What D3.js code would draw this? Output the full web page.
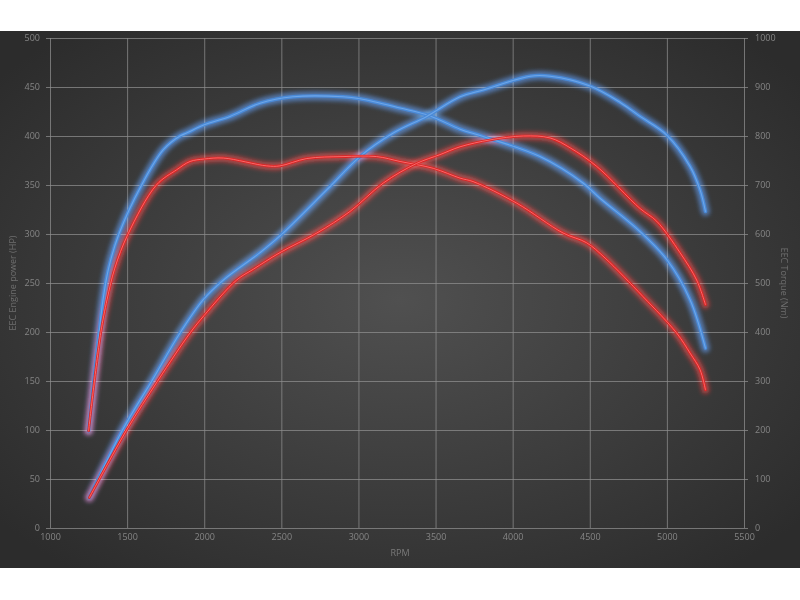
<!DOCTYPE html>
<html><head><meta charset="utf-8">
<script src="https://cdn.jsdelivr.net/npm/d3@7"></script>
<style>
html,body{margin:0;padding:0;background:#fff;}
svg{display:block;}
text{font-family:"Open Sans","DejaVu Sans",sans-serif;}
</style></head>
<body>
<svg id="chart" width="800" height="600"></svg>
<script>
// ---- data ----
const xTicks = [1000,1500,2000,2500,3000,3500,4000,4500,5000,5500];
const hpTicks = [0,50,100,150,200,250,300,350,400,450,500];
const nmTicks = [0,100,200,300,400,500,600,700,800,900,1000];

// Tuned (blue) torque, Nm
const blueTorqueRpm = [1250,1318,1344,1380,1447,1594,1735,1843,1886,2000,2167,2362,2576,2900,3010,3270,3464,3659,3808,4177,4456,4566,4826,4999,5150,5250];
const blueTorqueNm  = [198,398,466,530,600,700,772,800,806,823,840,867,880,880,876,857,841,814,799,758,704,673,605,548,466,367];

// Stock (red) torque, Nm
const redTorqueRpm = [1250,1329,1370,1420,1506,1690,1821,1908,2000,2124,2405,2491,2665,2900,3118,3270,3485,3659,3743,4026,4327,4480,4599,4846,5063,5150,5215,5250];
const redTorqueNm  = [198,398,466,530,600,700,731,748,753,755,739,739,754,758,758,748,734,714,707,663,602,582,551,472,398,357,323,282];

// Tuned (blue) power, HP
const bluePowerRpm = [1255,1470,1660,1843,1994,2124,2362,2491,2794,3010,3226,3443,3659,3810,4113,4243,4502,4700,4826,4999,5150,5215,5250];
const bluePowerHp  = [31,100,150,199,233,253,281,298,345,379,403,420,440,447,461,461,451,434,420,401,369,345,323];

// Stock (red) power, HP
const redPowerRpm = [1255,1497,1702,1908,2000,2210,2318,2491,2730,2945,3161,3377,3529,3659,3853,4069,4243,4372,4545,4826,4934,5085,5193,5250];
const redPowerHp  = [31,100,151,199,217,253,264,281,301,323,352,372,381,389,396,400,398,388,369,326,313,281,253,228];

// ---- drawing ----
const svg = d3.select("#chart");
const W = 800, H = 600;
const L = 50, R = 744, T = 38, B = 528;

const defs = svg.append("defs");
const rg = defs.append("radialGradient").attr("id","bg")
  .attr("cx","50%").attr("cy","50%").attr("r","65%");
rg.append("stop").attr("offset","0%").attr("stop-color","#505050");
rg.append("stop").attr("offset","100%").attr("stop-color","#2c2c2c");
const glow = defs.append("filter").attr("id","glow")
  .attr("x","-20%").attr("y","-20%").attr("width","140%").attr("height","140%");
glow.append("feGaussianBlur").attr("stdDeviation",2.2);
const soft = defs.append("filter").attr("id","soft")
  .attr("x","-20%").attr("y","-20%").attr("width","140%").attr("height","140%");
soft.append("feGaussianBlur").attr("stdDeviation",0.5);

svg.append("rect").attr("x",0).attr("y",31).attr("width",W).attr("height",537)
  .attr("fill","url(#bg)");

const x = d3.scaleLinear().domain([1000,5500]).range([L,R]);
const yL = d3.scaleLinear().domain([0,500]).range([B,T]);
const yR = d3.scaleLinear().domain([0,1000]).range([B,T]);

const gridColor = "#8e8e8e";
const labelColor = "#858585";

// horizontal grid + left labels
const gL = svg.append("g").attr("transform",`translate(${R+4},0)`)
  .call(d3.axisLeft(yL).tickValues(hpTicks).tickSize(R+4-(L-4)).tickPadding(6).tickFormat(d3.format("d")));
gL.select(".domain").remove();
gL.selectAll("line").attr("stroke",gridColor).attr("stroke-opacity",0.75);
gL.selectAll("text").attr("fill",labelColor).attr("font-size",9);

// right labels
const gR = svg.append("g").attr("transform",`translate(${R},0)`)
  .call(d3.axisRight(yR).tickValues(nmTicks).tickSize(0).tickPadding(11).tickFormat(d3.format("d")));
gR.select(".domain").remove();
gR.selectAll("text").attr("fill",labelColor).attr("font-size",9);

// vertical grid + bottom labels
const gB = svg.append("g").attr("transform",`translate(0,${B})`)
  .call(d3.axisBottom(x).tickValues(xTicks).tickSizeInner(-(B-T)).tickSizeOuter(0).tickPadding(6).tickFormat(d3.format("d")));
gB.select(".domain").remove();
gB.selectAll("line").attr("stroke",gridColor).attr("stroke-opacity",0.75);
gB.selectAll("text").attr("fill",labelColor).attr("font-size",9);

// axis titles
svg.append("text").attr("x",(L+R)/2+3).attr("y",556).attr("text-anchor","middle")
  .attr("fill","#7a7a7a").attr("font-size",9).text("RPM");
svg.append("text").attr("transform","translate(16,283) rotate(-90)").attr("text-anchor","middle")
  .attr("fill","#6e6e6e").attr("font-size",9).text("EEC Engine power (HP)");
svg.append("text").attr("transform","translate(781,283) rotate(90)").attr("text-anchor","middle")
  .attr("fill","#6e6e6e").attr("font-size",9).text("EEC Torque (Nm)");

// series
const series = [
  {rpm:blueTorqueRpm, val:blueTorqueNm, y:yR, c:"blue"},
  {rpm:bluePowerRpm, val:bluePowerHp, y:yL, c:"blue"},
  {rpm:redTorqueRpm, val:redTorqueNm, y:yR, c:"red"},
  {rpm:redPowerRpm, val:redPowerHp, y:yL, c:"red"}
];
const styles = {
  blue:{halo:"#2f74d6", haloW:9, haloO:0.7, core:"#4a8ad8", coreW:3.4, inner:"#6ea6e8", innerW:1.1},
  red:{halo:"#d81010", haloW:8, haloO:0.7, core:"#dd2424", coreW:2.6, inner:"#ff7c7c", innerW:0.8}
};
const halos = svg.append("g");
const cores = svg.append("g");
series.forEach(s => {
  const pts = s.rpm.map((r,i)=>[r,s.val[i]]);
  const line = d3.line().x(d=>x(d[0])).y(d=>s.y(d[1])).curve(d3.curveCatmullRom.alpha(0.5));
  const st = styles[s.c];
  halos.append("path").attr("d",line(pts)).attr("fill","none").attr("stroke",st.halo)
    .attr("stroke-width",st.haloW).attr("stroke-opacity",st.haloO).attr("stroke-linecap","round")
    .attr("filter","url(#glow)").style("mix-blend-mode","screen");
  const g = cores.append("g");
  g.append("path").attr("d",line(pts)).attr("fill","none").attr("stroke",st.core)
    .attr("stroke-width",st.coreW).attr("stroke-linecap","round").attr("filter","url(#soft)");
  g.append("path").attr("d",line(pts)).attr("fill","none").attr("stroke",st.inner)
    .attr("stroke-width",st.innerW).attr("stroke-linecap","round");
});
</script>
</body></html>
